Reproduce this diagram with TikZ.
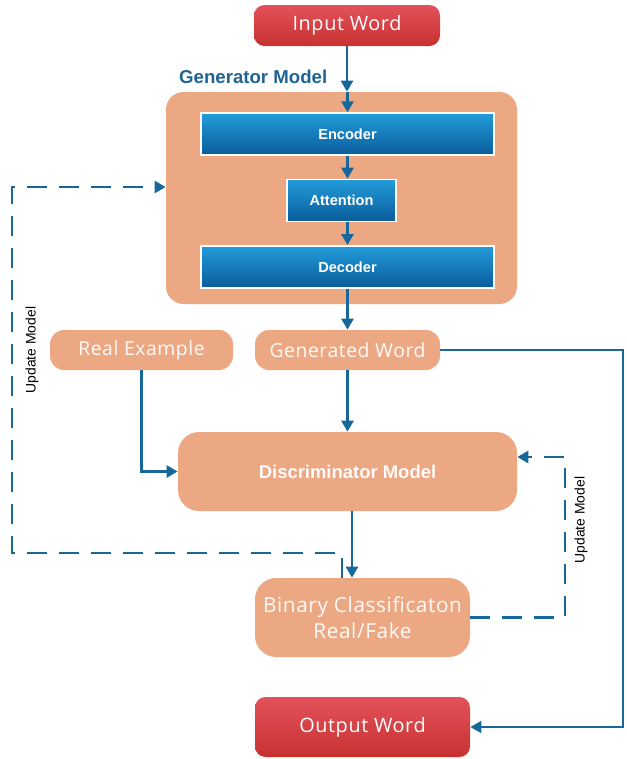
\documentclass[tikz,border=0pt]{standalone}
\usepackage{fontspec}
\setmainfont{Liberation Sans}
\newfontfamily\wordfont[LetterSpace=3]{Open Sans}
\usetikzlibrary{arrows.meta,positioning}
\definecolor{ganSalmon}{HTML}{ECA883}
\definecolor{ganLine}{HTML}{17679A}
\definecolor{ganRedTop}{HTML}{E3525B}
\definecolor{ganRedBot}{HTML}{C73130}
\definecolor{ganBlueTop}{HTML}{229CDA}
\definecolor{ganBlueBot}{HTML}{0B5C9B}
\definecolor{ganTitle}{HTML}{1E6394}

\begin{document}
\begin{tikzpicture}[
    redbox/.style={rounded corners=6pt, top color=ganRedTop, bottom color=ganRedBot,
                   text=white, font=\wordfont\fontsize{11.3}{13}\selectfont,
                   minimum height=0.82cm},
    pill/.style={rounded corners=8pt, fill=ganSalmon, text=white!96!ganSalmon,
                 font=\wordfont\fontsize{11}{13}\selectfont, minimum height=0.8cm},
    bluebox/.style={draw=white, line width=0.8pt, top color=ganBlueTop,
                    bottom color=ganBlueBot, text=white, font=\bfseries\fontsize{8.3}{10}\selectfont,
                    minimum height=0.84cm},
    arr/.style={-{Triangle[length=2.2mm,width=2.4mm]}, draw=ganLine, line width=1.5pt},
    loop/.style={-{Triangle[length=2.2mm,width=2.4mm]}, draw=ganLine, line width=1.5pt,
                 dash pattern=on 0.4cm off 0.24cm},
    lbl/.style={font=\fontsize{7.9}{9}\selectfont, rotate=90}]

    \useasboundingbox (0,0) rectangle (12.52,-15.18);

    % generator part
    \node[redbox, minimum width=3.72cm] (input) at (6.94,-0.51) {Input Word};
    \node[rounded corners=10pt, fill=ganSalmon, minimum width=7.02cm,
          minimum height=4.24cm] (gen) at (6.83,-3.96) {};
    \node[anchor=west, text=ganTitle, font=\bfseries\fontsize{10.6}{12}\selectfont]
          (genlbl) at (3.46,-1.54) {Generator Model};
    \node[bluebox, minimum width=5.86cm] (enc) at (6.95,-2.68) {Encoder};
    \node[bluebox, minimum width=2.18cm, below=0.46cm of enc, xshift=-0.12cm] (att) {Attention};
    \node[bluebox, minimum width=5.86cm, below=0.46cm of att, xshift=0.12cm] (dec) {Decoder};

    % discriminator part
    \node[pill, minimum width=3.66cm] (real) at (2.83,-7.0) {Real Example};
    \node[pill, minimum width=3.70cm] (genword) at (6.95,-7.0) {Generated Word};
    \node[pill, minimum width=6.78cm, minimum height=1.58cm, rounded corners=12pt,
          font=\bfseries\fontsize{10.5}{12}\selectfont] (disc) at (6.95,-9.43) {Discriminator Model};
    \node[pill, minimum width=4.3cm, minimum height=1.58cm, rounded corners=12pt,
          align=center, font=\wordfont\fontsize{11.8}{15}\selectfont]
          (binary) at (7.25,-12.35) {Binary Classificaton\\Real/Fake};
    \node[redbox, minimum width=4.3cm, minimum height=1.2cm] (output) at (7.25,-14.54) {Output Word};

    \coordinate (rt) at (12.46,0);
    \coordinate (lft) at (0.24,-11.06);
    \coordinate (rgt) at (11.3,-9.14);
    \coordinate (gin) at ([yshift=0.22cm]gen.west);

    \draw[arr] (input.south) -- (input.south |- gen.north);
    \draw[arr] (enc.north |- gen.north) -- (enc.north);
    \draw[arr] (enc.south) -- (enc.south |- att.north);
    \draw[arr] (enc.south |- att.south) -- (enc.south |- dec.north);
    \draw[arr] (dec.south) -- (genword.north);
    \draw[arr] (genword.south) -- (disc.north);
    \draw[arr] (real.south) |- (disc.west);
    \draw[arr] ([xshift=0.09cm]disc.south) -- ([xshift=0.09cm]disc.south |- binary.north);
    \draw[arr, line width=1.1pt] (genword.east) -- (genword.east -| rt) -- (rt |- output.east) -- (output.east);

    % update loops
    \draw[loop] ([xshift=-0.41cm]binary.north) -- ([xshift=-0.41cm]binary.north |- lft)
        -- (lft) -- (lft |- gin) -- (gin);
    \draw[loop] (binary.east) -- (binary.east -| rgt) -- (rgt) -- (rgt -| disc.east);
    \node[lbl] (upd1) at (0.64,-7.0) {Update Model};
    \node[lbl] (upd2) at (11.62,-10.4) {Update Model};
\end{tikzpicture}
\end{document}
